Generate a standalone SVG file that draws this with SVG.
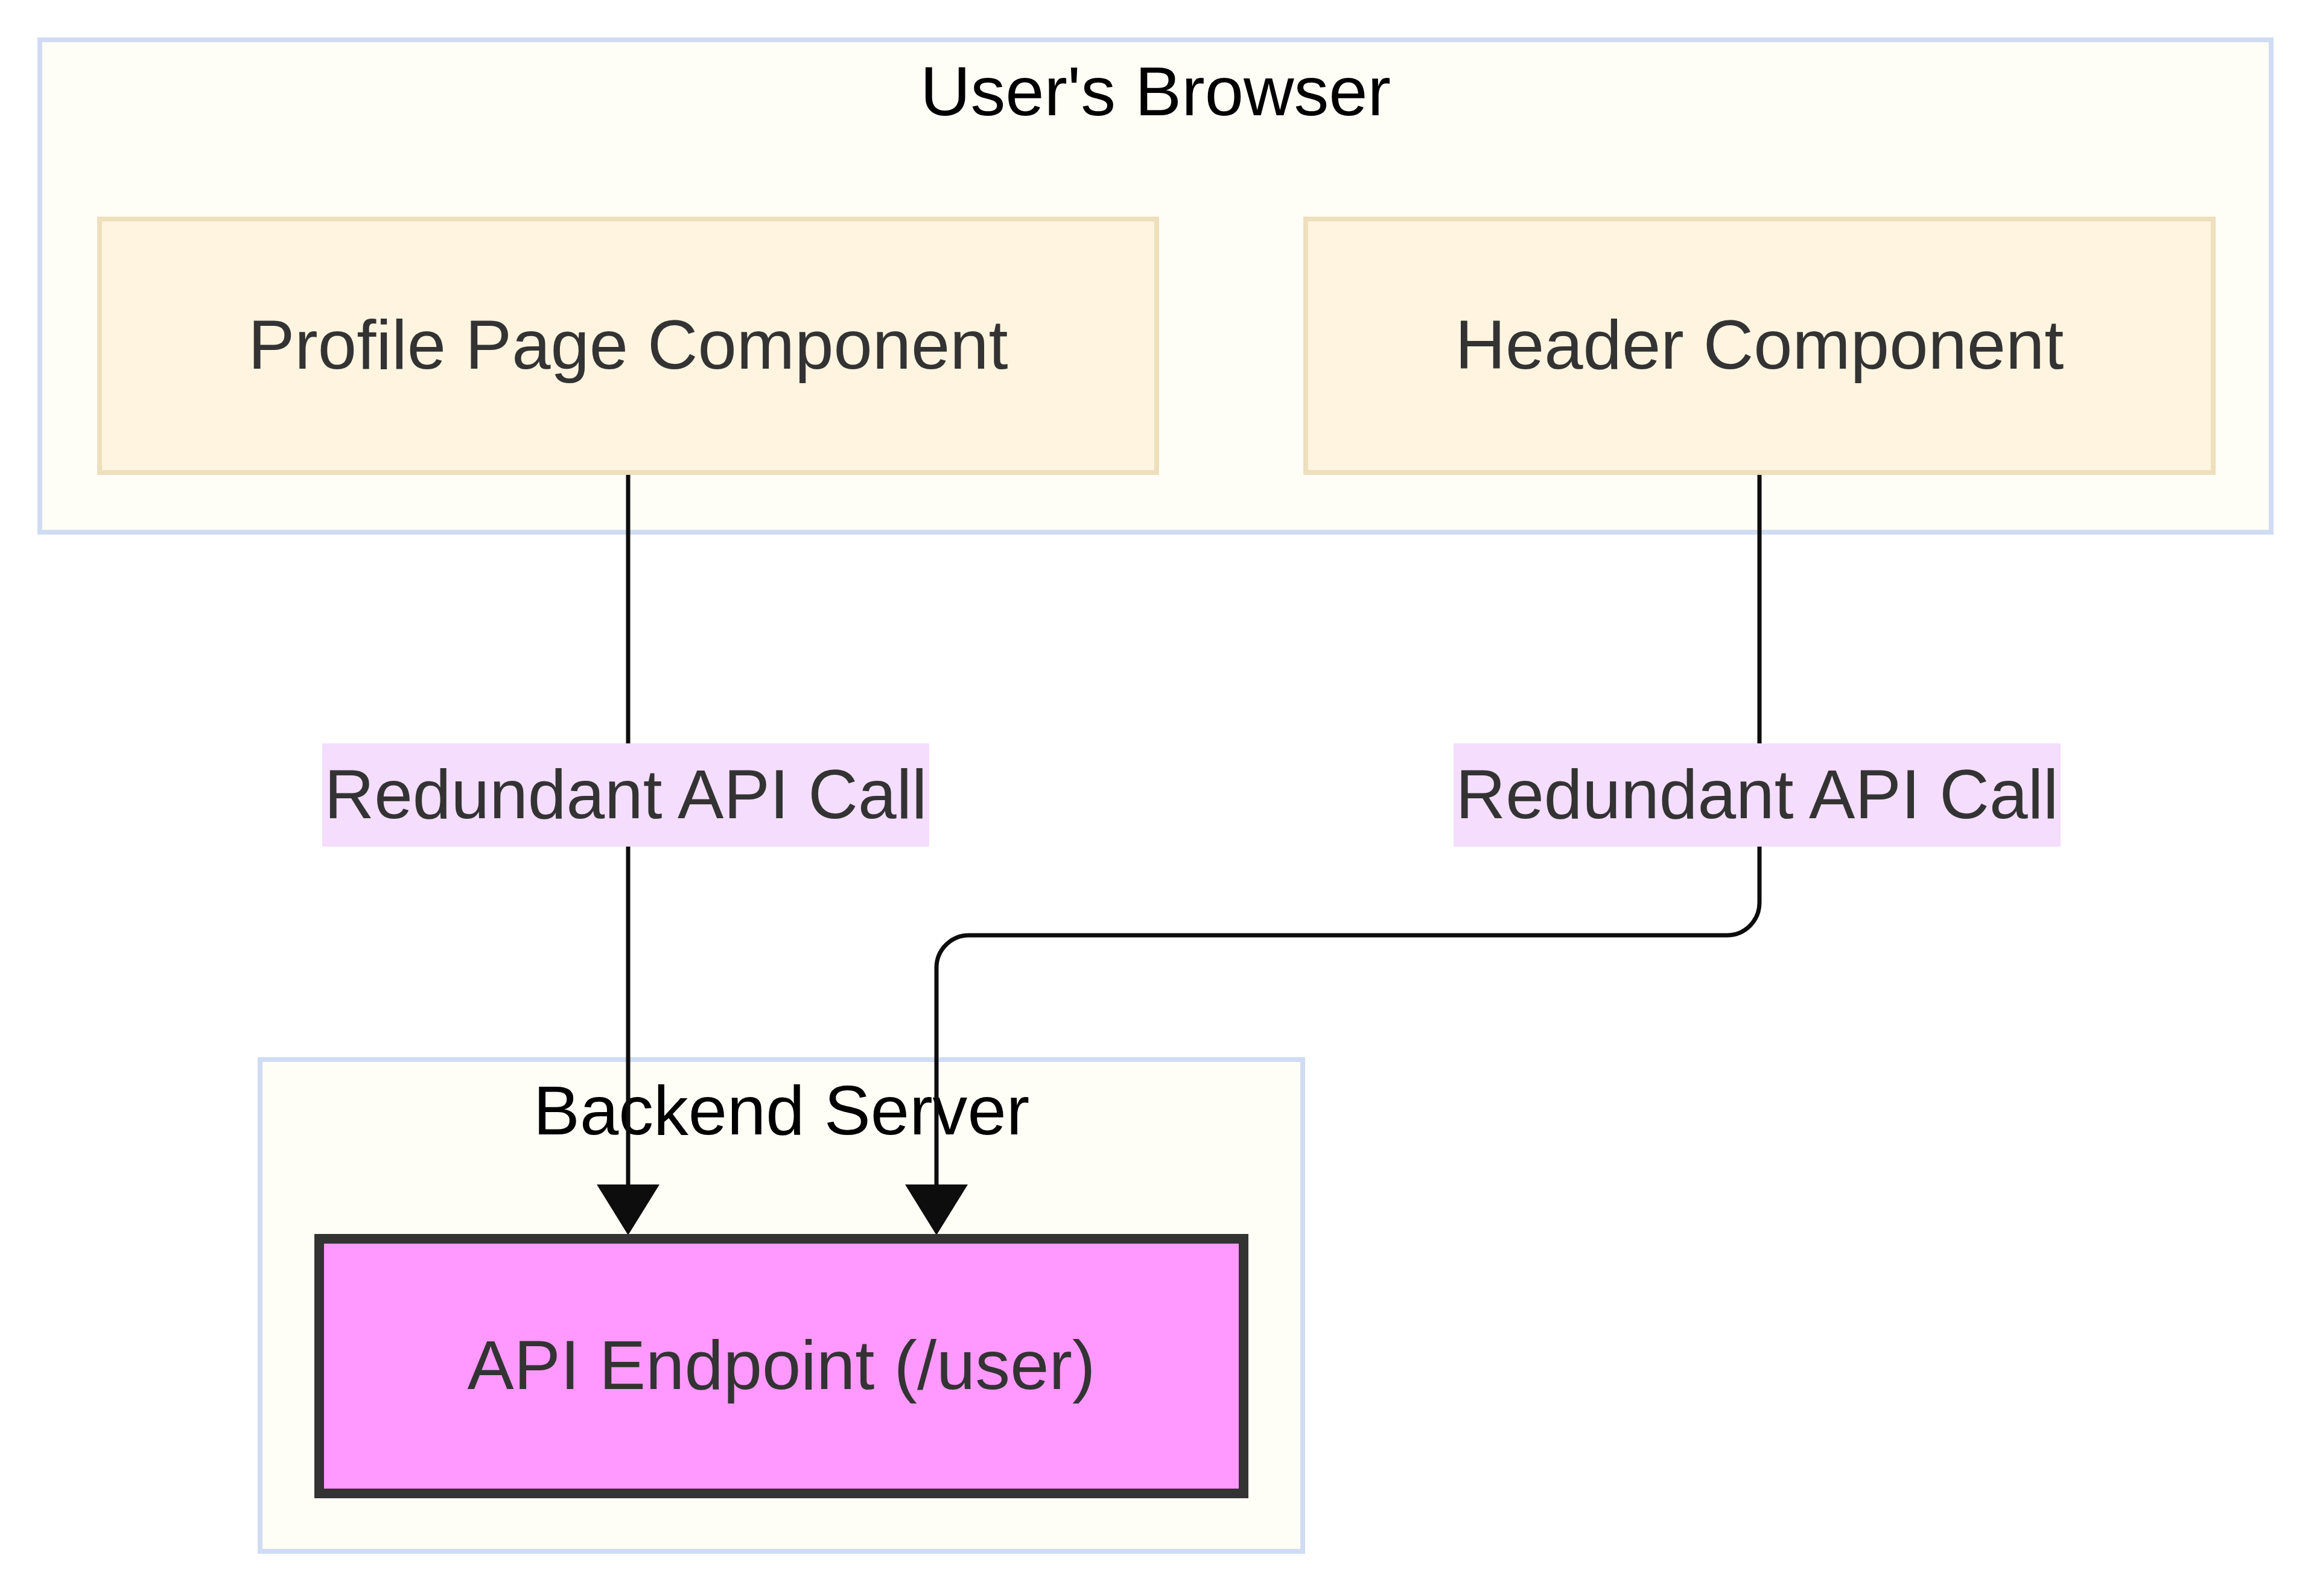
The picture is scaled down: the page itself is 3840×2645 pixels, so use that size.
<svg xmlns="http://www.w3.org/2000/svg" width="3840" height="2645" viewBox="0 0 3840 2645">
<style>
.cluster{fill:#fffef6;stroke:#d0dcf3;stroke-width:8}
.ctitle{font-family:"Liberation Sans",Arial,sans-serif;font-size:115.6px;fill:#000;text-anchor:middle}
.node{fill:#fef4e0;stroke:#eedfbd;stroke-width:8}
.ntext{font-family:"Liberation Sans",Arial,sans-serif;font-size:115.6px;fill:#333;text-anchor:middle}
.edge{fill:none;stroke:#0d0d0d;stroke-width:7}
.lbg{fill:#f4ddfd}
.api{fill:#ff99ff;stroke:#333;stroke-width:16}
</style>
<defs>
<marker id="arrow" markerUnits="userSpaceOnUse" markerWidth="90" markerHeight="110" refX="5" refY="52" orient="auto" viewBox="0 0 90 110">
<path d="M0,0 L84,52 L0,104 z" fill="#0d0d0d"/>
</marker>
</defs>
<rect width="3840" height="2645" fill="#ffffff"/>
<g id="cluster-browser">
<rect class="cluster" x="66" y="66" width="3698" height="816"/>
<text class="ctitle" x="1915" y="191">User's Browser</text>
</g>
<g id="cluster-backend">
<rect class="cluster" x="431" y="1756" width="1728" height="815"/>
<text class="ctitle" x="1295" y="1880">Backend Server</text>
</g>
<g id="edges">
<path class="edge" d="M1041 787 L1041 1968" marker-end="url(#arrow)"/>
<path class="edge" d="M2916 787 L2916 1496 A54 54 0 0 1 2862 1550 L1606 1550 A54 54 0 0 0 1552 1604 L1552 1968" marker-end="url(#arrow)"/>
<g id="label-1">
<rect class="lbg" x="534" y="1232" width="1006" height="171"/>
<text class="ntext" x="1037" y="1356" textLength="999" lengthAdjust="spacingAndGlyphs">Redundant API Call</text>
</g>
<g id="label-2">
<rect class="lbg" x="2409" y="1232" width="1006" height="171"/>
<text class="ntext" x="2912" y="1356" textLength="999" lengthAdjust="spacingAndGlyphs">Redundant API Call</text>
</g>
</g>
<g id="node-profile">
<rect class="node" x="165" y="363" width="1752" height="420"/>
<text class="ntext" x="1041" y="611">Profile Page Component</text>
</g>
<g id="node-header">
<rect class="node" x="2164" y="363" width="1504" height="420"/>
<text class="ntext" x="2916" y="611">Header Component</text>
</g>
<g id="node-api">
<rect class="api" x="529" y="2053" width="1532" height="422"/>
<text class="ntext" x="1295" y="2302">API Endpoint (/user)</text>
</g>
</svg>
